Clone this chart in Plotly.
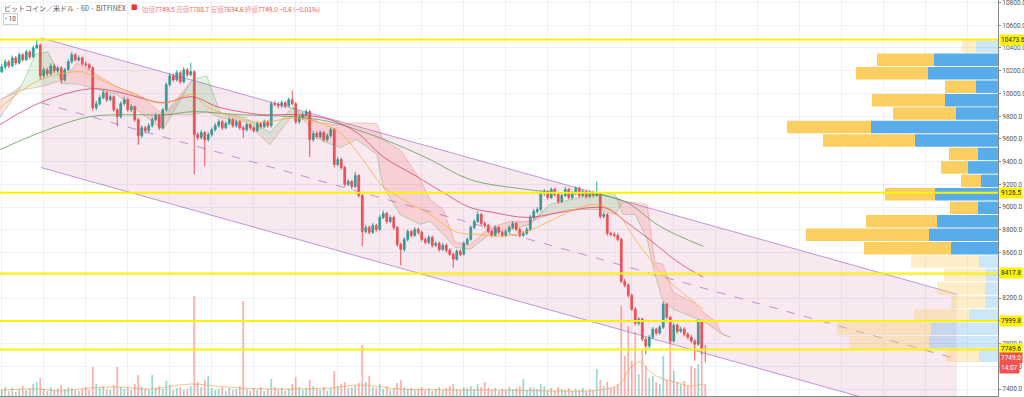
import plotly.graph_objects as go

# ---------------- data ----------------
closes = [10234,10278,10243,10313,10269,10340,10296,10366,10322,10401,
          10427,10155,10208,10173,10243,10199,10226,10120,10208,10278,
          10340,10296,10313,10261,10252,10226,9875,9910,9963,10006,
          9945,9971,9857,9796,9910,9945,9857,9884,9770,9629,
          9699,9673,9717,9770,9805,9699,9857,10077,10155,10120,
          10182,10103,10208,10164,10191,9638,9612,9656,9594,9638,
          9682,9717,9752,9699,9735,9770,9717,9752,9699,9682,
          9726,9699,9673,9735,9708,9752,9717,9910,9905,9892,
          9919,9892,9945,9910,9752,9787,9813,9840,9594,9647,
          9620,9656,9594,9629,9682,9375,9419,9349,9200,9226,
          9182,9279,9103,8787,8822,8779,8840,8805,8910,8945,
          8875,8910,8822,8673,8629,8717,8787,8752,8805,8779,
          8717,8691,8735,8665,8682,8629,8665,8621,8586,8542,
          8612,8586,8682,8717,8822,8875,8936,8857,8840,8787,
          8752,8822,8779,8752,8787,8822,8857,8805,8752,8770,
          8805,8910,8963,8980,9121,9138,9086,9156,9112,9050,
          9103,9156,9086,9121,9165,9103,9138,9094,9129,9103,
          9112,8919,8936,8770,8761,8752,8717,8349,8314,8226,
          8103,7980,8016,7840,7779,7858,7928,7893,7945,8147,
          8033,7823,7963,7910,7928,7884,7858,7823,7796,7998,
          7749.5,7749.0]
first_open = 10190
highs = [10260,10300,10295,10335,10330,10360,10355,10385,10380,10420,
         10473.6,10440,10230,10225,10265,10260,10245,10240,10225,10300,
         10365,10355,10335,10325,10280,10270,10240,9935,9985,10030,
         10020,9995,9985,9870,9930,9970,9960,9905,9895,9785,
         9720,9715,9740,9790,9830,9820,9875,10095,10180,10175,
         10205,10200,10230,10225,10270,10205,9660,9680,9670,9660,
         9700,9740,9775,9770,9755,9790,9785,9770,9765,9715,
         9745,9740,9715,9755,9750,9770,9765,9930,9935,9925,
         9940,9935,9965,10025,9925,9805,9835,9860,9855,9670,
         9665,9675,9670,9650,9700,9695,9440,9435,9365,9245,
         9240,9310,9290,9115,8845,8840,8860,8855,8930,8970,
         8960,8930,8925,8835,8690,8735,8805,8800,8825,8820,
         8795,8735,8755,8750,8700,8700,8685,8680,8640,8600,
         8630,8630,8700,8735,8840,8895,8965,8950,8875,8855,
         8800,8840,8835,8795,8805,8840,8880,8870,8820,8790,
         8825,8930,8985,9000,9140,9160,9150,9175,9170,9125,
         9120,9180,9170,9140,9185,9180,9155,9150,9150,9145,
         9225,9125,8960,8950,8785,8780,8770,8730,8370,8330,
         8240,8120,8035,8030,7855,7875,7945,7940,7965,8170,
         8160,8045,7980,7975,7950,7945,7900,7875,7840,8015,
         8010,7788.7]
lows = [10180,10215,10225,10230,10250,10255,10280,10285,10300,10310,
        10390,10120,10130,10150,10160,10180,10185,10085,10105,10195,
        10265,10280,10280,10245,10235,10205,9850,9855,9895,9950,
        9925,9930,9840,9710,9780,9895,9840,9835,9750,9550,
        9610,9650,9655,9700,9755,9680,9685,9840,10060,10100,
        10105,10085,10090,10145,10150,9290,9590,9595,9360,9575,
        9620,9665,9700,9680,9685,9720,9700,9700,9680,9610,
        9665,9680,9655,9660,9690,9695,9700,9700,9885,9870,
        9875,9870,9880,9895,9730,9735,9770,9800,9440,9575,
        9600,9605,9575,9578,9615,9350,9360,9330,9180,9185,
        9160,9170,9085,8660,8770,8760,8765,8785,8790,8895,
        8855,8860,8800,8650,8490,8610,8700,8735,8740,8760,
        8700,8675,8675,8645,8650,8610,8615,8600,8570,8470,
        8530,8570,8575,8665,8705,8805,8860,8840,8820,8770,
        8735,8740,8760,8735,8740,8770,8805,8790,8735,8740,
        8755,8790,8895,8945,8965,9100,9065,9070,9095,9030,
        9035,9090,9070,9070,9105,9085,9090,9075,9080,9085,
        9090,8900,8900,8750,8745,8735,8700,8330,8295,8205,
        8085,7960,7960,7820,7705,7760,7840,7875,7880,7930,
        8015,7805,7810,7890,7895,7865,7840,7805,7650,7780,
        7700,7634.6]
volumes = [6,9,5,8,4,7,10,6,8,12,
           14,18,7,5,9,6,8,11,7,9,
           8,6,5,7,9,6,29,12,8,10,
           7,6,11,29,9,7,8,6,12,21,
           9,7,6,21,8,10,7,15,11,6,
           8,9,6,7,10,100,14,9,16,20,
           8,6,7,9,5,8,6,7,10,95,
           7,5,8,6,9,5,7,17,9,6,
           8,5,7,12,19,9,6,8,16,10,
           7,6,9,5,8,25,10,12,14,8,
           9,11,13,51,14,20,9,8,12,7,
           10,6,8,13,16,9,7,8,6,7,
           9,6,8,5,7,9,6,8,10,12,
           7,6,9,8,10,7,12,9,14,8,
           6,8,5,7,6,9,7,8,10,17,
           6,9,8,7,12,10,6,8,5,9,
           7,6,8,5,7,6,8,5,7,6,
           27,16,10,14,8,9,12,90,40,70,
           35,64,22,46,30,18,20,14,12,40,
           16,60,25,14,12,15,10,30,28,32,
           43,12]

# moving averages (bar index, price)
ma_orange_x = [-0.5,10.9,22.4,25.2,32.9,37.5,43.2,47.2,54.4,58.6,66.1,74.6,83.2,90.1,96.6,101.5,105.2,108.9,114.6,122.4,130.1,136.6,142.4,150.1,155.8,162.4,168.9,172.9,176.6,180.4,185.2,190.1,195.8,200.4]
ma_orange_y = [9875,10120,10191,10164,10059,10006,9927,9919,9989,9884,9796,9743,9787,9752,9656,9489,9331,9182,9068,8936,8779,8761,8744,8787,8866,8963,9024,8998,8919,8744,8542,8366,8217,8103]
ma_red_x = [-0.5,10.9,25.2,32.9,39.5,46.1,54.4,61.5,68.1,74.6,84.4,93.8,101.5,108.9,118.6,126.1,133.8,140.4,150.1,159.5,168.9,172.9,178.6,186.1,192.9,200.4]
ma_red_y = [9726,9919,10041,10015,9963,9919,9971,9884,9840,9813,9813,9770,9656,9445,9270,9129,8998,8954,8910,8954,8998,8989,8866,8691,8524,8384]
ma_green_x = [-0.5,10.9,25.2,37.5,47.2,54.4,68.1,83.2,93.8,103.2,112.9,122.4,133.8,150.1,159.5,171.0,178.6,188.1,200.4]
ma_green_y = [9506,9656,9796,9813,9813,9840,9813,9796,9752,9664,9550,9419,9243,9156,9129,9112,9042,8831,8656]

# ichimoku cloud (bar index, span A, span B)
cloud_x = [-0.5,5.8,9.5,13.2,17.5,21.5,32.9,40.4,46.1,54.4,58.6,62.4,69.5,76.6,83.2,90.9,96.6,101.5,107.2,108.9,113.8,119.5,122.4,126.1,129.5,133.8,139.5,145.2,151.0,156.6,162.4,171.0,175.2,177.5,181.0,184.4,186.6,188.9,191.8,197.5,200.4,203.8,205.8,208.1]
span_a = [9787,10077,10340,10366,10085,10085,9989,9813,9682,10120,10155,9831,9787,9656,9884,9594,9524,9594,9463,9182,8936,8849,8875,8761,8647,8629,8761,8805,8849,9024,9068,9129,9112,8936,8936,8717,8410,8173,8103,8033,7998,7928,7884,7858]
span_b = [9945,10033,10050,10077,10120,10269,10059,9963,9813,9813,9840,9787,9752,9550,9813,9743,9726,9743,9735,9594,9506,9243,9068,8980,8691,8673,8822,8875,8875,8936,8980,8980,8936,9042,9042,9024,8515,8498,8252,8165,8077,7998,7884,7858]

# regression channel (bar index, price)
channel_x = [11.2, 272.9]
channel_upper = [10489, 8235]
channel_mid = [9919, 7665]
channel_lower = [9349, 7095]

# horizontal levels
levels = [10473.6, 9126.5, 8417.8, 7999.8, 7749.6]

# volume profile (rows from top), up = blue, down = yellow
vp_low, vp_high, vp_rows = 7634.6, 10473.6, 24
vp_up = [22,64,70,22,53,42,127,83,20,30,17,63,20,61,69,47,19,12,13,13,29,67,69,19]
vp_down = [14,57,72,31,73,63,84,92,29,27,20,50,28,71,123,87,68,42,48,34,55,94,80,33]
vp_value_area = [False]+[True]*15+[False]*8

vol_ma_x = [-0.5,10.9,16.6,25.2,33.8,42.4,53.8,60.9,68.1,79.5,93.8,102.4,113.8,128.1,142.4,156.6,171.0,176.6,179.5,182.4,185.2,188.1,192.4,196.6,200.4]
vol_ma_y = [6,7,5,8,9,7,12,10,8,7,8,11,7,6,6,5,6,12,28,34,25,18,14,10,12]

y_ticks = list(range(7400, 10801, 200))

# ---------------- figure ----------------
N = len(closes)
idx = list(range(N))
opens = [first_open] + closes[:-1]

UP, DN = '#26a69a', '#ef5350'
LBL_FONT = dict(size=6.5, family='Roboto')
fig = go.Figure()

# channel
fig.add_trace(go.Scatter(
    x=[channel_x[0], channel_x[1], channel_x[1], channel_x[0], channel_x[0]],
    y=[channel_upper[0], channel_upper[1], channel_lower[1], channel_lower[0], channel_upper[0]],
    fill='toself', fillcolor='rgba(200,80,130,0.13)', mode='lines',
    line=dict(width=0), hoverinfo='skip', showlegend=False))
for ys, dash in [(channel_upper, 'solid'), (channel_lower, 'solid'), (channel_mid, 'dash')]:
    fig.add_trace(go.Scatter(x=channel_x, y=ys, mode='lines',
                             line=dict(color='rgba(150,90,190,0.6)', width=1, dash=dash),
                             hoverinfo='skip', showlegend=False))

# ichimoku cloud
cloud_top = [max(a, b) for a, b in zip(span_a, span_b)]
fig.add_trace(go.Scatter(x=cloud_x, y=span_a, mode='lines',
                         line=dict(color='rgba(76,175,80,0.45)', width=0.8), showlegend=False))
fig.add_trace(go.Scatter(x=cloud_x, y=cloud_top, mode='lines', fill='tonexty',
                         fillcolor='rgba(244,67,54,0.14)', line=dict(width=0), showlegend=False))
fig.add_trace(go.Scatter(x=cloud_x, y=span_b, mode='lines',
                         line=dict(color='rgba(244,67,54,0.35)', width=0.8), showlegend=False))
fig.add_trace(go.Scatter(x=cloud_x, y=cloud_top, mode='lines', fill='tonexty',
                         fillcolor='rgba(76,175,80,0.16)', line=dict(width=0), showlegend=False))

# moving averages
fig.add_trace(go.Scatter(x=ma_green_x, y=ma_green_y, mode='lines', line_shape='spline',
                         line=dict(color='rgba(90,150,80,0.75)', width=1), showlegend=False))
fig.add_trace(go.Scatter(x=ma_red_x, y=ma_red_y, mode='lines', line_shape='spline',
                         line=dict(color='rgba(214,60,100,0.75)', width=1), showlegend=False))
fig.add_trace(go.Scatter(x=ma_orange_x, y=ma_orange_y, mode='lines', line_shape='spline',
                         line=dict(color='rgba(255,170,40,0.7)', width=1), showlegend=False))

# volume
vcol = ['rgba(38,166,154,0.45)' if c >= o else 'rgba(239,83,80,0.45)' for o, c in zip(opens, closes)]
fig.add_trace(go.Bar(x=idx, y=volumes, yaxis='y2', marker=dict(color=vcol, line=dict(width=0)),
                     width=0.5, showlegend=False))
fig.add_trace(go.Scatter(x=vol_ma_x, y=vol_ma_y, yaxis='y2', mode='lines', line_shape='spline',
                         line=dict(color='rgba(255,152,60,0.6)', width=1), showlegend=False))

# candles
fig.add_trace(go.Candlestick(
    x=idx, open=opens, high=highs, low=lows, close=closes,
    increasing=dict(line=dict(color=UP, width=1), fillcolor=UP),
    decreasing=dict(line=dict(color=DN, width=1), fillcolor=DN),
    whiskerwidth=0, showlegend=False))

# volume profile
row_h = (vp_high - vp_low) / vp_rows
centers = [vp_high - (k + 0.5) * row_h for k in range(vp_rows)]
blue = ['rgba(88,172,233,1)' if v else 'rgba(88,172,233,0.3)' for v in vp_value_area]
yell = ['rgba(250,206,96,1)' if v else 'rgba(250,206,96,0.35)' for v in vp_value_area]
fig.add_trace(go.Bar(x=vp_up, y=centers, base=0, orientation='h', xaxis='x2', yaxis='y',
                     width=row_h * 0.93, marker=dict(color=blue, line=dict(width=0)), showlegend=False))
fig.add_trace(go.Bar(x=vp_down, y=centers, base=vp_up, orientation='h', xaxis='x2', yaxis='y',
                     width=row_h * 0.93, marker=dict(color=yell, line=dict(width=0)), showlegend=False))

# horizontal levels + labels
shapes = []
annotations = []
for lv in levels:
    shapes.append(dict(type='line', xref='paper', x0=0, x1=1, yref='y', y0=lv, y1=lv,
                       line=dict(color='#fff200', width=2), layer='above'))
    annotations.append(dict(xref='paper', x=1, xanchor='left', xshift=1, yref='y', y=lv,
                            text=f'{lv:.1f}', showarrow=False, bgcolor='#fff200',
                            font=dict(color='#222', **LBL_FONT), borderpad=1))
annotations.append(dict(xref='paper', x=1, xanchor='left', xshift=1, yref='y', y=closes[-1], yshift=-9,
                        text=f'{closes[-1]:.1f}', showarrow=False, bgcolor='#ef5350',
                        font=dict(color='white', **LBL_FONT), borderpad=1))
annotations.append(dict(xref='paper', x=1, xanchor='left', xshift=1, yref='y', y=closes[-1], yshift=-19,
                        text='14:07', showarrow=False, bgcolor='#ef5350',
                        font=dict(color='white', **LBL_FONT), borderpad=1))

hdr = ('始値<span style="color:#ef5350">7749.5</span> 高値<span style="color:#ef5350">7788.7</span> '
       '安値<span style="color:#ef5350">7634.6</span> 終値<span style="color:#ef5350">7749.0 −0.6 (−0.01%)</span>')
annotations.append(dict(xref='paper', yref='paper', x=0, y=1, xanchor='left', yanchor='top',
                        xshift=2, yshift=-1, showarrow=False,
                        text='ビットコイン／米ドル · 60 · BITFINEX',
                        font=dict(size=7, color='#555', family='Noto Sans CJK JP')))
annotations.append(dict(xref='paper', yref='paper', x=0, y=1, xanchor='left', yanchor='top',
                        xshift=129, yshift=-1, showarrow=False, text='■',
                        font=dict(size=7, color='#ef3030', family='DejaVu Sans')))
annotations.append(dict(xref='paper', yref='paper', x=0, y=1, xanchor='left', yanchor='top',
                        xshift=140, yshift=-2, showarrow=False, text=hdr,
                        font=dict(size=6.5, color='#e99', family='Noto Sans CJK JP')))
annotations.append(dict(xref='paper', yref='paper', x=0, y=1, xanchor='left', yanchor='top',
                        xshift=3, yshift=-13, showarrow=False, text='› 10',
                        bordercolor='#cfcfcf', borderwidth=1, borderpad=1, bgcolor='white',
                        font=dict(size=6.5, color='#444', family='Roboto')))

fig.update_layout(
    width=1024, height=397,
    margin=dict(l=0, r=26, t=0, b=1, autoexpand=False),
    paper_bgcolor='white', plot_bgcolor='white',
    barmode='overlay', showlegend=False,
    xaxis=dict(range=[-0.5, 284.64], showticklabels=False, showgrid=True, gridcolor='#eef2f7',
               tick0=12, dtick=12, zeroline=False, rangeslider=dict(visible=False),
               showline=True, linecolor='#888', linewidth=1, automargin=False),
    xaxis2=dict(range=[998, 0], overlaying='x', visible=False),
    yaxis=dict(range=[7340, 10822], side='right', tickvals=y_ticks,
               ticktext=[f'{t:.1f}' for t in y_ticks], ticks='outside', ticklen=2,
               tickcolor='#888', tickfont=dict(color='#555', **LBL_FONT),
               ticklabeloverflow='allow',
               showgrid=True, gridcolor='#eef2f7', zeroline=False, automargin=False,
               showline=True, linecolor='#888', linewidth=1),
    yaxis2=dict(range=[0, 396], overlaying='y', visible=False),
    shapes=shapes, annotations=annotations,
)

fig.write_html('out.html', config={'displayModeBar': False},
               post_script="document.body.style.margin='0px';document.body.style.overflow='hidden';")
